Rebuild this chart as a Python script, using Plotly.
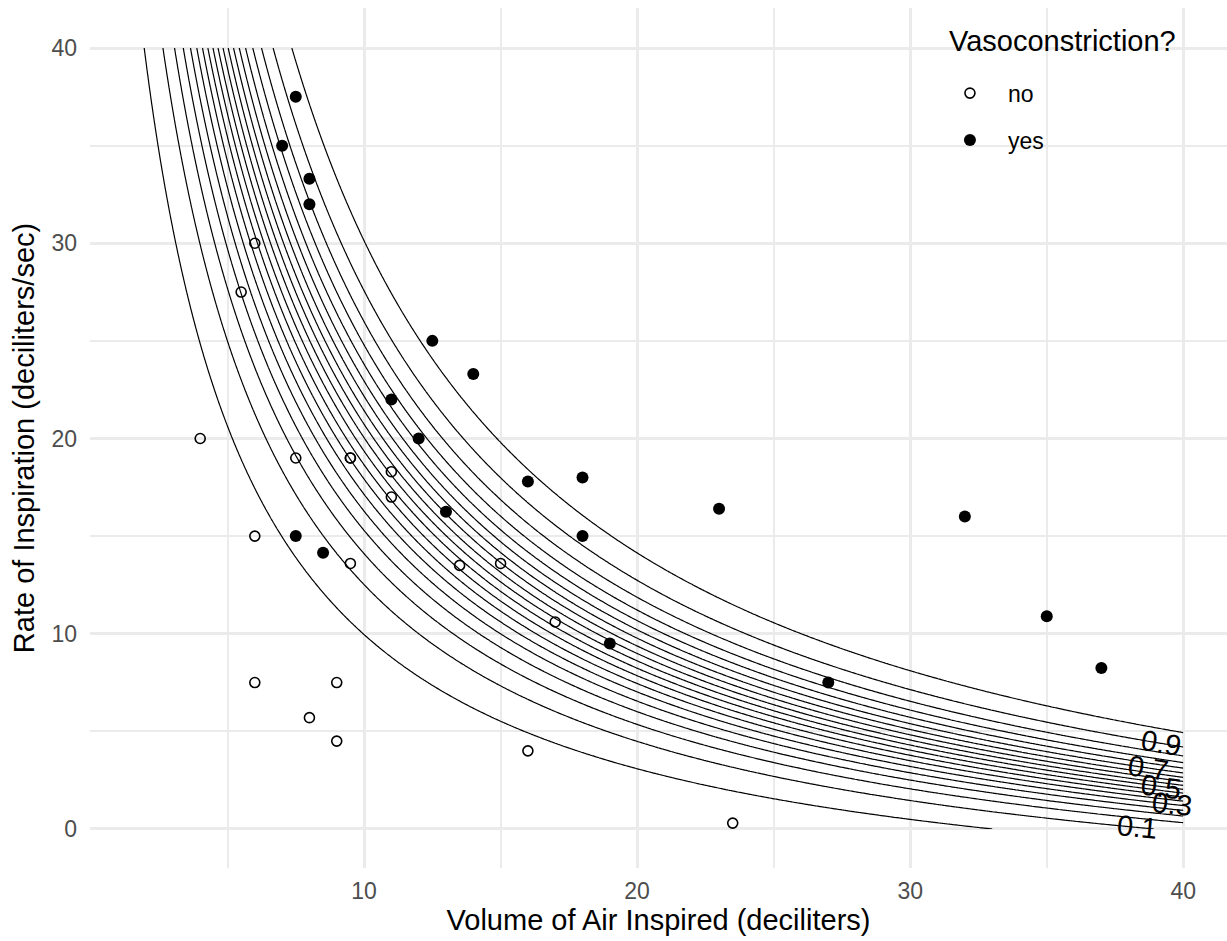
import numpy as np
import plotly.graph_objects as go

# Finney vasoconstriction data (deciliters)
volume = [37, 35, 12.5, 7.5, 8, 7, 6, 11, 9, 9, 8, 5.5, 6, 14, 7.5, 23, 32, 8.5, 17, 18,
          4, 9.5, 13.5, 15, 16, 6, 18, 9.5, 19, 16, 27, 23.5, 11, 11, 12, 8, 9.5, 7.5, 13]
rate = [8.25, 10.9, 25, 15, 32, 35, 7.5, 17, 7.5, 4.5, 5.7, 27.5, 30, 23.3, 37.5, 16.4, 16,
        14.15, 10.6, 18, 20, 13.6, 13.5, 13.6, 17.8, 15, 15, 19, 9.5, 4, 7.5, 0.3, 18.3, 22,
        20, 33.3, 19, 19, 16.25]
constricted = [1, 1, 1, 1, 1, 1, 0, 0, 0, 0, 0, 0, 0, 1, 1, 1, 1, 1, 0, 1,
               0, 0, 0, 0, 1, 0, 1, 0, 1, 0, 1, 0, 0, 1, 1, 1, 0, 0, 1]
group_names = ["no", "yes"]

contour_levels = dict(start=0.05, end=0.95, size=0.05)
label_levels = [0.1, 0.3, 0.5, 0.7, 0.9]
label_at_volume = [38.3, 39.6, 39.2, 38.7, 39.2]   # where each contour label sits

v = np.array(volume, float)
r = np.array(rate, float)
y = np.array(constricted, float)


def design(a, c):
    return np.column_stack([np.ones_like(a), a, c, a * c])


def fit_logit(X, yy, n=100):
    b = np.zeros(X.shape[1])
    for _ in range(n):
        eta = X @ b
        p = 1 / (1 + np.exp(-eta))
        w = np.clip(p * (1 - p), 1e-12, None)
        z = eta + (yy - p) / w
        b = np.linalg.solve(X.T @ (X * w[:, None]), X.T @ (w * z))
    return b


beta = fit_logit(design(v, r), y)

gx = np.linspace(0.01, 40, 500)
gy = np.linspace(0, 40, 500)
GX, GY = np.meshgrid(gx, gy)
Z = (1 / (1 + np.exp(-(design(GX.ravel(), GY.ravel()) @ beta)))).reshape(GX.shape)

FONT = "Liberation Sans, Arial, Helvetica, sans-serif"
fig = go.Figure()
fig.add_trace(go.Contour(x=gx, y=gy, z=Z, contours=dict(coloring="lines", **contour_levels),
                         colorscale=[[0, "black"], [1, "black"]], showscale=False,
                         line=dict(width=1.2), showlegend=False, hoverinfo="skip"))

yes = y == 1
fig.add_trace(go.Scatter(x=v[~yes], y=r[~yes], mode="markers", name=group_names[0], legendgroup="a",
                         marker=dict(symbol="circle-open", color="black", size=10, line=dict(width=1.6))))
fig.add_trace(go.Scatter(x=v[yes], y=r[yes], mode="markers", name=group_names[1], legendgroup="b",
                         marker=dict(symbol="circle", color="black", size=12)))

# contour labels placed on the fitted contour lines
px_per_x = 27.3
px_per_y = 19.525
for lev, vx in zip(label_levels, label_at_volume):
    L = np.log(lev / (1 - lev))
    rr = lambda q: (L - beta[0] - beta[1] * q) / (beta[2] + beta[3] * q)
    ry = rr(vx)
    slope = (rr(vx + 0.01) - rr(vx - 0.01)) / 0.02
    ang = np.degrees(np.arctan(-slope * px_per_y / px_per_x))
    fig.add_annotation(x=vx, y=ry, text=f"{lev:.1f}", showarrow=False, textangle=ang,
                       font=dict(family=FONT, size=29, color="black"), xanchor="center", yanchor="middle")

# legend title
fig.add_annotation(xref="paper", yref="paper", x=0.7537, y=0.9616, xanchor="left", yanchor="middle",
                   text="Vasoconstriction?", showarrow=False,
                   font=dict(family=FONT, size=29, color="black"))

fig.update_layout(width=1227, height=941, margin=dict(l=90, r=0, t=8, b=73),
                  plot_bgcolor="white", paper_bgcolor="white",
                  font=dict(family=FONT),
                  legend=dict(font=dict(size=23, color="black"), x=0.7405, y=0.926,
                              xanchor="left", yanchor="top", bgcolor="rgba(0,0,0,0)",
                              tracegroupgap=14, itemwidth=66))
axis_common = dict(gridcolor="#EBEBEB", gridwidth=2.5, zeroline=False,
                   showline=False, ticks="", tickfont=dict(size=23, color="#4D4D4D"),
                   minor=dict(dtick=5, tick0=0, showgrid=True, gridcolor="#EBEBEB", gridwidth=1.5))
fig.update_xaxes(range=[-0.035, 41.6], title=dict(text="Volume of Air Inspired (deciliters)",
                 font=dict(size=29, color="black"), standoff=2), ticklabelstandoff=7,
                 tickvals=[10, 20, 30, 40], **axis_common)
fig.update_yaxes(range=[-2, 42.05], title=dict(text="Rate of Inspiration (deciliters/sec)",
                 font=dict(size=29, color="black"), standoff=8), ticklabelstandoff=12,
                 dtick=10, tick0=0, **axis_common)
fig.write_html("out.html")
